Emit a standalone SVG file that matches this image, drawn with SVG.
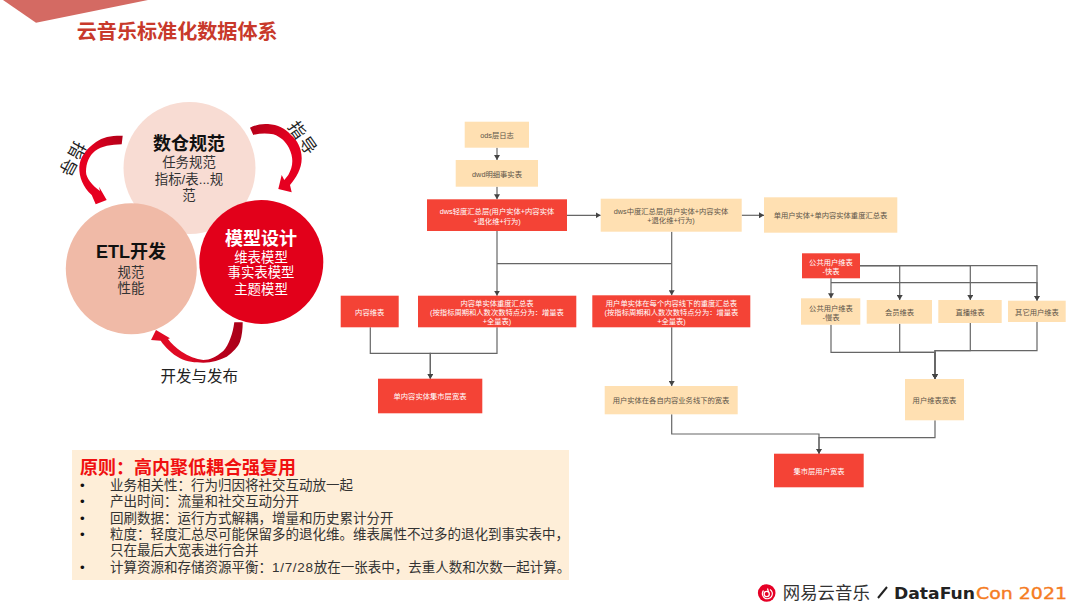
<svg xmlns="http://www.w3.org/2000/svg" width="1080" height="608" viewBox="0 0 1080 608">
<style>
text{font-family:"Liberation Sans","Noto Sans CJK SC",sans-serif;text-anchor:middle}
.r{fill:#f44336}.o{fill:#ffe0b2}
.rt{fill:#fff;font-size:7.3px}
.ot{fill:#5d5449;font-size:7.3px}
.c{fill:none;stroke:#666;stroke-width:1.2}
.h{font-size:18px;font-weight:700}
.s{font-size:13.4px;fill:#333}
.w{font-size:13.4px;fill:#fff}
.b{font-size:13.5px;fill:#333;text-anchor:start}
.d{font-size:13.3px;fill:#111;text-anchor:start}
.l{font-size:17px;fill:#222}
</style>
<defs>
<marker id="a" markerWidth="6" markerHeight="6" refX="5" refY="3" orient="auto" markerUnits="userSpaceOnUse"><path d="M0 0L5 3L0 6Z" fill="#444"/></marker>
<linearGradient id="g1" x1="1" y1="0" x2="0" y2="1"><stop offset="0" stop-color="#b00018"/><stop offset=".5" stop-color="#e60020"/></linearGradient>
<linearGradient id="g2" x1="0" y1="0" x2="1" y2="1"><stop offset="0" stop-color="#b00018"/><stop offset=".5" stop-color="#e60020"/></linearGradient>
<linearGradient id="g3" x1="1" y1="0" x2="0" y2="0"><stop offset="0" stop-color="#a80018"/><stop offset=".35" stop-color="#c0001c"/><stop offset=".6" stop-color="#e00a24"/></linearGradient>
</defs>
<rect width="1080" height="608" fill="#fff"/>
<path d="M3 0H148L36 22.700Z" fill="#d46a63"/>
<text x="177.200" y="39" style="font-size:20.100px;font-weight:700;fill:#c8392b">云音乐标准化数据体系</text>
<g id="arrows">
<path d="M122.700 135.700C112 135.500 103 136.700 96 142C86 149 80 157 79.300 167C79 177 83 187 91.700 195L95.700 204.300L106.700 200L99 186.700L100 191C92 185 86 178 86 171.700C86 163 89 156 95 151C102 146 111 144.500 121.700 144.300Z" fill="url(#g1)"/>
<path d="M250 127.700L253.300 135C260 133 267 133 273.300 134.300C281 137 286 142 289 148C294 158 293 167 288.300 175L284.300 180L281.700 175L278.300 189L291.700 192.300L290 185C296 178 301.700 169 301.700 158.300C301.700 148 297 140 291 135C285 128 278 124.800 268 124C261 123.500 255 125 250 127.700Z" fill="url(#g2)"/>
<path d="M242.700 322.300H234.300C233 333 229 345 223.300 351C216 357 210 360 203.300 360C196 359 188 356 181.700 351.700C176 348 171 343 168 339L170 338.300L156 330L151 340L160.700 340.700C165 347 172 354 180 358.300C187 362 195 362.700 203.300 362.700C212 362.500 220 360 226.700 356.700C233 352 238 347 240 341.700C242 336 242.700 329 242.700 322.300Z" fill="url(#g3)"/>
</g>
<text class="l" transform="translate(72 159.500) rotate(118)" y="6" letter-spacing="2">指导</text>
<text class="l" transform="translate(303 138.500) rotate(55)" y="6" letter-spacing="2">指导</text>
<g id="n-spec"><circle cx="189.500" cy="168" r="66" fill="#f8dcd3"/>
<text x="189" y="150" class="h" fill="#111">数仓规范</text><text x="189" y="167" class="s">任务规范</text><text x="189" y="184" class="s">指标/表...规</text><text x="189" y="200" class="s">范</text></g>
<g id="n-etl"><circle cx="131.300" cy="268.700" r="65.500" fill="#f0baa7"/>
<text x="131" y="258" class="h" fill="#111">ETL开发</text><text x="131" y="277" class="s">规范</text><text x="131" y="293" class="s">性能</text></g>
<g id="n-model"><circle cx="261.300" cy="262" r="62" fill="#e2001a"/>
<text x="261" y="244.500" class="h" fill="#fff">模型设计</text><text x="261" y="261.500" class="w">维表模型</text><text x="261" y="277" class="w">事实表模型</text><text x="261" y="293.500" class="w">主题模型</text></g>
<text x="199.300" y="382" style="font-size:15.500px;fill:#222">开发与发布</text>

<g id="connectors">
<path class="c" marker-end="url(#a)" d="M497 147.700V160"/>
<path class="c" marker-end="url(#a)" d="M497 186.700V199.300"/>
<path class="c" marker-end="url(#a)" d="M567 215.300H600.700"/>
<path class="c" marker-end="url(#a)" d="M741.700 215.300H764"/>
<path class="c" marker-end="url(#a)" d="M497 231V295.700"/>
<path class="c" d="M497 263.700H671.700"/>
<path class="c" marker-end="url(#a)" d="M671.700 231.700V295.300"/>
<path class="c" marker-end="url(#a)" d="M370.300 327.300V353.300H430.300V378.700"/>
<path class="c" marker-end="url(#a)" d="M497 327.300V353.300H430.300V378.700"/>
<path class="c" marker-end="url(#a)" d="M671.700 327.300V386"/>
<path class="c" marker-end="url(#a)" d="M671.700 414.300V434H819V453.700"/>
<path class="c" marker-end="url(#a)" d="M935 420.300V437.700H819V453.700"/>
<path class="c" marker-end="url(#a)" d="M860 265.700H899.700V300"/>
<path class="c" marker-end="url(#a)" d="M860 265.700H970.300V300"/>
<path class="c" marker-end="url(#a)" d="M860 265.700H1037V300.700"/>
<path class="c" marker-end="url(#a)" d="M831 278.300V298.300"/>
<path class="c" marker-end="url(#a)" d="M831 282.700H1037V300.700"/>
<path class="c" marker-end="url(#a)" d="M831 324.700V352.300H935V379"/>
<path class="c" marker-end="url(#a)" d="M899.700 323.700V352.300H935V379"/>
<path class="c" marker-end="url(#a)" d="M970.300 323V350.700H935V379"/>
<path class="c" marker-end="url(#a)" d="M1037 322V350.700H935V379"/>
</g>

<g id="ods"><rect class="o" x="464.700" y="121.700" width="64.300" height="26"/><text class="ot" x="497" y="137.500">ods层日志</text></g>
<g id="dwd"><rect class="o" x="455.700" y="160" width="82.300" height="26.700"/><text class="ot" x="497" y="176.500">dwd明细事实表</text></g>
<g id="dws-light"><rect class="r" x="427" y="199.300" width="140" height="31.700"/><text class="rt" x="497" y="214">dws轻度汇总层(用户实体+内容实体</text><text class="rt" x="497" y="223.500">+退化维+行为)</text></g>
<g id="dws-mid"><rect class="o" x="600.700" y="198.700" width="141" height="33"/><text class="ot" x="671" y="214">dws中度汇总层(用户实体+内容实体</text><text class="ot" x="671" y="223">+退化维+行为)</text></g>
<g id="single"><rect class="o" x="764" y="197.300" width="133.300" height="35.400"/><text class="ot" x="830.500" y="218.300">单用户实体+单内容实体重度汇总表</text></g>
<g id="dim-content"><rect class="r" x="340.700" y="295.700" width="58" height="31.600"/><text class="rt" x="369.700" y="315">内容维表</text></g>
<g id="content-heavy"><rect class="r" x="418" y="295.700" width="158.300" height="31.600"/><text class="rt" x="497" y="306">内容单实体重度汇总表</text><text class="rt" x="497" y="315.300">(按指标周期和人数次数特点分为：增量表</text><text class="rt" x="497" y="324.300">+全量表)</text></g>
<g id="user-heavy"><rect class="r" x="592.300" y="295.300" width="158" height="32"/><text class="rt" x="671.500" y="306">用户单实体在每个内容线下的重度汇总表</text><text class="rt" x="671.500" y="315.300">(按指标周期和人数次数特点分为：增量表</text><text class="rt" x="671.500" y="324.300">+全量表)</text></g>
<g id="content-mart"><rect class="r" x="378" y="378.700" width="104.300" height="34.600"/><text class="rt" x="430" y="399.300">单内容实体集市层宽表</text></g>
<g id="user-wide"><rect class="o" x="604.700" y="386" width="133" height="28.300"/><text class="ot" x="671" y="402.700">用户实体在各自内容业务线下的宽表</text></g>
<g id="dim-fast"><rect class="r" x="802" y="253.300" width="58" height="25"/><text class="rt" x="831" y="264.700">公共用户维表</text><text class="rt" x="831" y="273.700">-快表</text></g>
<g id="dim-slow"><rect class="o" x="801" y="298.300" width="59.300" height="26.400"/><text class="ot" x="831" y="311">公共用户维表</text><text class="ot" x="831" y="319.700">-慢表</text></g>
<g id="dim-vip"><rect class="o" x="866.700" y="300" width="65.300" height="23.700"/><text class="ot" x="899.500" y="315">会员维表</text></g>
<g id="dim-live"><rect class="o" x="938.300" y="300" width="63.400" height="23"/><text class="ot" x="970" y="315">直播维表</text></g>
<g id="dim-other"><rect class="o" x="1008" y="300.700" width="57.700" height="21.300"/><text class="ot" x="1037" y="315">其它用户维表</text></g>
<g id="dim-wide"><rect class="o" x="905" y="379" width="59" height="41.300"/><text class="ot" x="934.500" y="403.300">用户维表宽表</text></g>
<g id="user-mart"><rect class="r" x="774" y="453.700" width="89.700" height="33.600"/><text class="rt" x="819" y="474">集市层用户宽表</text></g>

<g id="principles">
<rect x="72" y="450" width="497" height="130" fill="#feeed8"/>
<text x="80" y="474" style="font-size:18px;font-weight:700;fill:#f01010;text-anchor:start">原则：高内聚低耦合强复用</text>
<text class="d" x="80" y="490">•</text><text class="b" x="110" y="490">业务相关性：行为归因将社交互动放一起</text>
<text class="d" x="80" y="506">•</text><text class="b" x="110" y="506">产出时间：流量和社交互动分开</text>
<text class="d" x="80" y="523">•</text><text class="b" x="110" y="523">回刷数据：运行方式解耦，增量和历史累计分开</text>
<text class="d" x="80" y="539">•</text><text class="b" x="110" y="539">粒度：轻度汇总尽可能保留多的退化维。维表属性不过多的退化到事实表中，</text>
<text class="b" x="110" y="555">只在最后大宽表进行合并</text>
<text class="d" x="80" y="572">•</text><text class="b" x="110" y="572">计算资源和存储资源平衡：<tspan letter-spacing=".7">1/7/28</tspan>放在一张表中，去重人数和次数一起计算。</text>
</g>
<g id="logo">
<circle cx="766.700" cy="593" r="8.800" fill="#e60026"/>
<circle cx="766.700" cy="594" r="2.600" fill="none" stroke="#fff" stroke-width="1.300"/>
<path d="M763.500 590.500A5 5 0 1 0 770 589.500M768.500 592L767.500 588.500" fill="none" stroke="#fff" stroke-width="1.200"/>
<text x="826.300" y="599" style="font-size:17.400px;fill:#333">网易云音乐</text>
<path d="M878 598L887 587" stroke="#222" stroke-width="2" fill="none"/>
<text x="894" y="598.500" textLength="81" lengthAdjust="spacingAndGlyphs" style="font-size:16.500px;font-weight:700;fill:#222;text-anchor:start;font-family:'DejaVu Sans',sans-serif">DataFun</text>
<text x="976" y="598.500" textLength="91" lengthAdjust="spacingAndGlyphs" style="font-size:16.500px;fill:#f57c1f;stroke:#f57c1f;stroke-width:.4;text-anchor:start;font-family:'DejaVu Sans',sans-serif">Con 2021</text>
</g>
</svg>
